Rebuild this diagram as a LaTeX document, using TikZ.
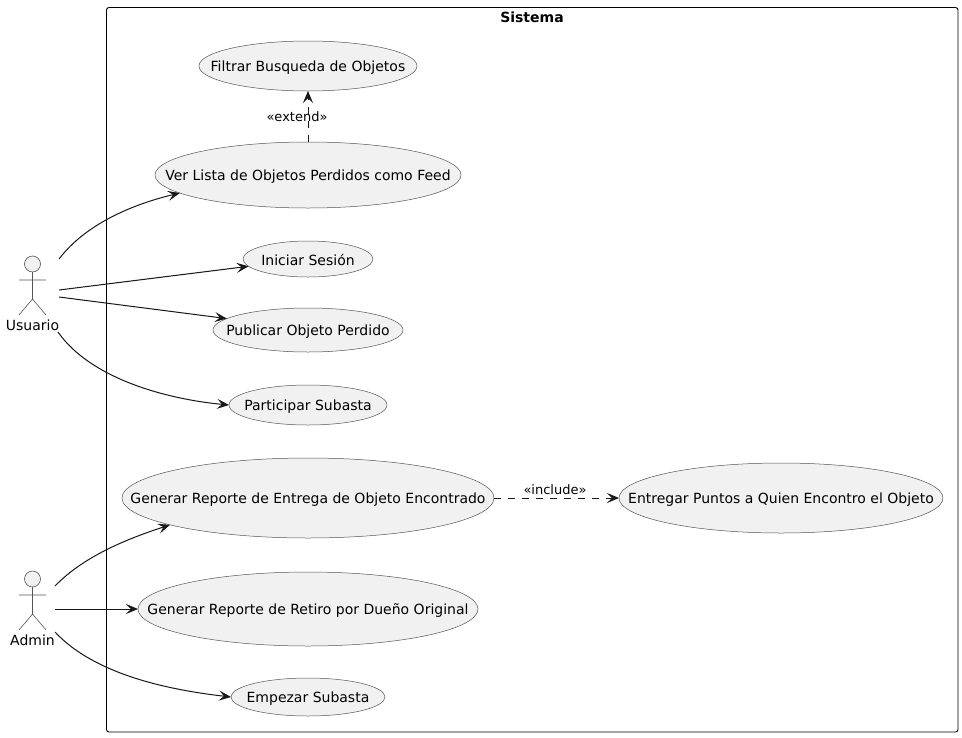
\documentclass[tikz,border=0pt]{standalone}
\usepackage{fontspec}
\setmainfont{DejaVu Sans}
\usetikzlibrary{arrows.meta,shapes.geometric}
\definecolor{ucfill}{HTML}{F1F1F1}
\definecolor{ucline}{HTML}{555555}
\definecolor{lnk}{HTML}{181818}
\tikzset{
  usecase/.style={ellipse,draw=ucline,fill=ucfill,line width=0.5pt,inner sep=0pt,outer sep=0pt,minimum width=#1},
  usetext/.style={inner sep=0pt,font=\fontsize{14}{16}\selectfont,text=black,yshift=-1.2pt},
  actorname/.style={inner sep=0pt,font=\fontsize{14}{16}\selectfont,text=black},
  actorline/.style={draw=ucline,line width=0.6pt},
  linksolid/.style={draw=lnk,line width=1pt,-{Stealth[length=12pt,width=10pt,inset=5pt]}},
  linkdash/.style={linksolid,dash pattern=on 7pt off 7pt},
  linklabel/.style={inner sep=0pt,font=\fontsize{13}{15}\selectfont,text=black},
  boundary/.style={draw=black,line width=0.9pt,rounded corners=2.5pt},
}
\begin{document}
\begin{tikzpicture}[x=1pt,y=-1pt]
\useasboundingbox (0,0) rectangle (962,737);
\fill[white] (0,0) rectangle (962,737);
\draw[boundary] (106.5,7.5) rectangle (958,732);
\node[inner sep=0pt,font=\fontsize{14}{16}\selectfont\bfseries] (sistema) at (532,17) {Sistema};

\node[usecase=218pt,minimum height=50pt,label={[usetext]center:Filtrar Busqueda de Objetos}] (filtrar) at (308,66) {};
\node[usecase=306pt,minimum height=66pt,label={[usetext]center:Ver Lista de Objetos Perdidos como Feed}] (ver) at (308,175) {};
\node[usecase=130pt,minimum height=36pt,label={[usetext]center:Iniciar Sesión}] (iniciar) at (308,259) {};
\node[usecase=190pt,minimum height=44pt,label={[usetext]center:Publicar Objeto Perdido}] (publicar) at (308,330) {};
\node[usecase=158pt,minimum height=40pt,label={[usetext]center:Participar Subasta}] (participar) at (308,405) {};
\node[usecase=372pt,minimum height=80pt,label={[usetext]center:Generar Reporte de Entrega de Objeto Encontrado}] (reporte) at (308,498) {};
\node[usecase=324pt,minimum height=70pt,label={[usetext]center:Entregar Puntos a Quien Encontro el Objeto}] (puntos) at (781,498) {};
\node[usecase=340pt,minimum height=74pt,label={[usetext]center:Generar Reporte de Retiro por Dueño Original}] (retiro) at (308,609) {};
\node[usecase=154pt,minimum height=38pt,label={[usetext]center:Empezar Subasta}] (empezar) at (308,697) {};

% actors
\draw[actorline,fill=ucfill] (32.5,264) circle (8);
\draw[actorline] (32.5,272) -- (32.5,299) (19,280) -- (46,280) (19,315) -- (32.5,299) -- (46,315);
\node[actorname] (usuario) at (32.5,325) {Usuario};
\draw[actorline,fill=ucfill] (32.5,579) circle (8);
\draw[actorline] (32.5,587) -- (32.5,614) (19,595) -- (46,595) (19,630) -- (32.5,614) -- (46,630);
\node[actorname] (admin) at (32.5,640) {Admin};

\coordinate (u1) at (59,259);
\coordinate (u2) at (59,290);
\coordinate (u3) at (59,297);
\coordinate (u4) at (58,332);
\coordinate (a1) at (55,586);
\coordinate (a2) at (55,609);
\coordinate (a3) at (55,632);

\draw[linksolid] (u1) .. controls (85,225) and (130,205) .. (ver.188);
\draw[linksolid] (u2) -- (iniciar.187);
\draw[linksolid] (u3) -- (publicar.172);
\draw[linksolid] (u4) .. controls (90,378) and (165,399) .. (participar.west);
\draw[linksolid] (a1) .. controls (85,555) and (130,538) .. (reporte.191.5);
\draw[linksolid] (a2) -- (retiro.west);
\draw[linksolid] (a3) .. controls (95,675) and (170,690) .. (empezar.west);

\draw[linkdash] (ver.north) -- (filtrar.south);
\node[linklabel] (extlab) at (297,117) {«extend»};
\draw[linkdash] (reporte.east) -- (puntos.west);
\node[linklabel] (inclab) at (555,490) {«include»};
\end{tikzpicture}
\end{document}
